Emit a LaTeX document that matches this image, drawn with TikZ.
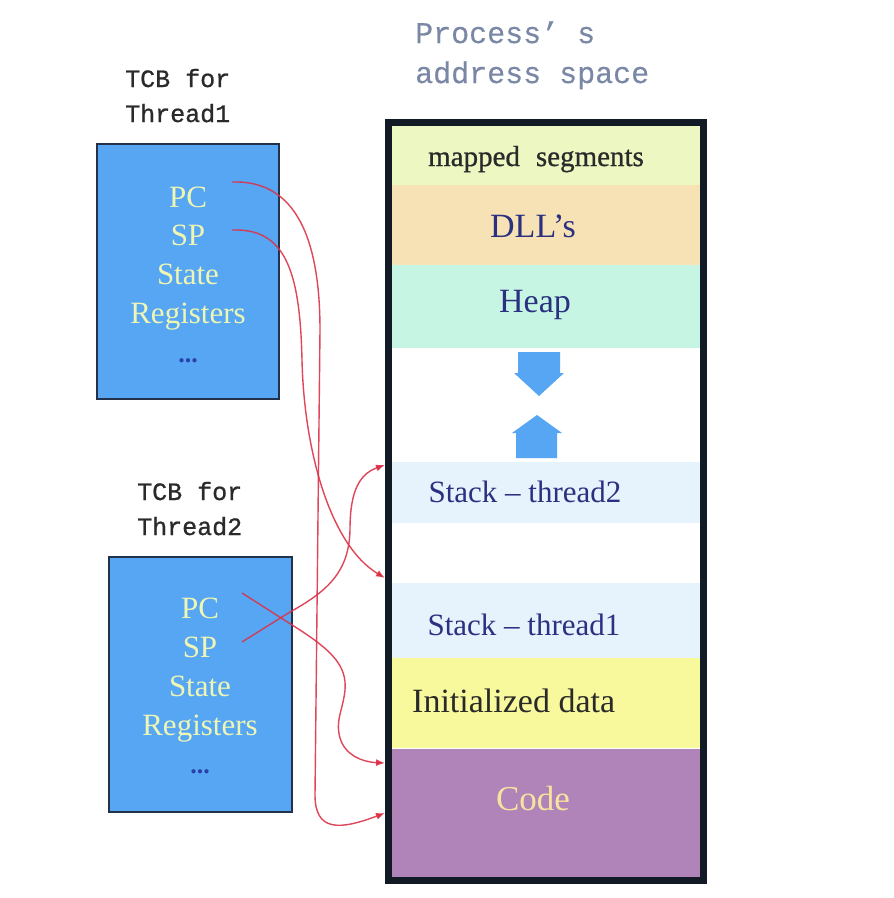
\documentclass[tikz,border=0pt]{standalone}
\usepackage{fontspec}
\setmainfont{Liberation Serif}
\newfontfamily\monofont[FakeBold=0.8]{Liberation Mono}
\newfontfamily\titlefont[FakeBold=0.4]{Liberation Mono}
\newfontfamily\heavyserif[FakeBold=0.8]{Liberation Serif}
\usetikzlibrary{arrows.meta}
\definecolor{tcbblue}{HTML}{56A6F4}
\definecolor{tcbedge}{HTML}{23324A}
\definecolor{tcbtext}{HTML}{EEF6B4}
\definecolor{dotblue}{HTML}{2A3FA8}
\definecolor{titlegray}{HTML}{7A88A6}
\definecolor{labelgray}{HTML}{2A2A2A}
\definecolor{mapc}{HTML}{EDF7C2}
\definecolor{dllc}{HTML}{F7E2B5}
\definecolor{heapc}{HTML}{C6F6E3}
\definecolor{stackc}{HTML}{E6F2FC}
\definecolor{initc}{HTML}{F8F89C}
\definecolor{codec}{HTML}{B084B8}
\definecolor{codetext}{HTML}{F5E3A0}
\definecolor{navytext}{HTML}{2B3080}
\definecolor{framec}{HTML}{121A26}
\definecolor{linkred}{HTML}{DC3248}
\definecolor{growblue}{HTML}{56A6F4}
\begin{document}
\begin{tikzpicture}[x=1pt,y=-1pt,
  tcbbox/.style={draw=tcbedge, line width=1.5pt, fill=tcbblue, inner sep=0pt},
  tcbitem/.style={text=tcbtext, font=\fontsize{31}{31}\selectfont, anchor=base, inner sep=0pt},
  tcbdots/.style={text=dotblue, font=\fontsize{26}{26}\selectfont, anchor=base, inner sep=0pt},
  tcblabel/.style={text=labelgray, font=\monofont\fontsize{25}{25}\selectfont, anchor=base west, inner sep=0pt},
  titlelabel/.style={text=titlegray, font=\titlefont\fontsize{30}{30}\selectfont, anchor=base west, inner sep=0pt},
  seg/.style={minimum width=308pt, inner sep=0pt, draw=none},
  segtext/.style={anchor=base, inner sep=0pt},
  link/.style={draw=linkred, line width=1.4pt, draw opacity=0.9, -{Latex[length=9pt,width=7pt]}},
  growarrow/.style={fill=growblue, draw=none}
]
\useasboundingbox (0,0) rectangle (894,898);
\fill[white] (0,0) rectangle (894,898);

% title
\node[titlelabel] (title1) at (415,43) {Process’ s};
\node[titlelabel] (title2) at (415,83) {address space};

% TCB labels
\node[tcblabel] (lab1a) at (125,87) {TCB for};
\node[tcblabel] (lab1b) at (125,122) {Thread1};
\node[tcblabel] (lab2a) at (137,500) {TCB for};
\node[tcblabel] (lab2b) at (137,535) {Thread2};

% TCB boxes
\node[tcbbox, minimum width=182pt, minimum height=255pt] (tcb1) at (188,271.5) {};
\node[tcbitem] (t1pc) at (188,207) {PC};
\node[tcbitem] (t1sp) at (188,245) {SP};
\node[tcbitem] (t1st) at (188,284) {State};
\node[tcbitem] (t1rg) at (188,323) {Registers};
\node[tcbdots] (t1dt) at (188,362) {\textbf{...}};

\node[tcbbox, minimum width=183pt, minimum height=255pt] (tcb2) at (200.5,684.5) {};
\node[tcbitem] (t2pc) at (200,618) {PC};
\node[tcbitem] (t2sp) at (200,657) {SP};
\node[tcbitem] (t2st) at (200,696) {State};
\node[tcbitem] (t2rg) at (200,735) {Registers};
\node[tcbdots] (t2dt) at (200,773) {\textbf{...}};

% address space segments
\node[seg, fill=mapc, minimum height=59pt] (mapped) at (546,155.5) {};
\node[seg, fill=dllc, minimum height=80pt] (dll) at (546,225) {};
\node[seg, fill=heapc, minimum height=83pt] (heap) at (546,306.5) {};
\node[seg, fill=stackc, minimum height=61pt] (stack2) at (546,492.5) {};
\node[seg, fill=stackc, minimum height=75pt] (stack1) at (546,620.5) {};
\node[seg, fill=initc, minimum height=90pt] (init) at (546,703) {};
\node[seg, fill=codec, minimum height=132pt] (code) at (546,814) {};
\draw[white, line width=1.2pt] (init.south west) -- (init.south east);

\node[segtext, text=labelgray, font=\heavyserif\fontsize{29}{29}\selectfont] (mappedL) at (536,166) {mapped\hspace{0.3em} segments};
\node[segtext, text=navytext, font=\fontsize{34}{34}\selectfont] (dllL) at (533,237) {DLL’s};
\node[segtext, text=navytext, font=\fontsize{34}{34}\selectfont] (heapL) at (535,312) {Heap};
\node[segtext, text=navytext, font=\fontsize{31}{31}\selectfont] (stack2L) at (525,502) {Stack – thread2};
\node[segtext, text=navytext, font=\fontsize{31}{31}\selectfont] (stack1L) at (524,635) {Stack – thread1};
\node[segtext, text=labelgray, anchor=base west, font=\fontsize{34}{34}\selectfont] (initL) at (412,712) {Initialized data};
\node[segtext, text=codetext, font=\fontsize{35}{35}\selectfont] (codeL) at (533,810) {Code};

% growth arrows
\fill[growarrow] (518,352) -- (560,352) -- (560,373) -- (564,373) -- (539,396) -- (514,373) -- (518,373) -- cycle;
\fill[growarrow] (537,415) -- (562,433) -- (557,433) -- (557,458) -- (516,458) -- (516,433) -- (512,433) -- cycle;

% frame
\node[draw=framec, line width=7pt, minimum width=315pt, minimum height=758.5pt, inner sep=0pt] (frame) at (546,501.25) {};

% connector endpoints
\coordinate (s1pc) at (232,182);
\coordinate (s1sp) at (232,230);
\coordinate (s2pc) at (242,593);
\coordinate (s2sp) at (242,642);
\coordinate (eA) at (385,465);
\coordinate (eB) at (385,578);
\coordinate (eC) at (385,763);
\coordinate (eD) at (385,813);

% connectors
\draw[link] (s1pc) .. controls (288,180) and (320,225) .. (320,330)
  -- (315,795) .. controls (315,832) and (340,830) .. (eD);
\draw[link] (s1sp) .. controls (285,228) and (300,270) .. (302,360)
  .. controls (304,450) and (330,545) .. (eB);
\draw[link] (s2pc) -- (300,630) .. controls (332,651) and (347,666) .. (345,690)
  .. controls (343,710) and (335,720) .. (340,738)
  .. controls (345,755) and (362,762) .. (eC);
\draw[link] (s2sp) -- (290,612) .. controls (330,590) and (349,570) .. (350,530)
  .. controls (350,498) and (356,475) .. (eA);
\end{tikzpicture}
\end{document}
